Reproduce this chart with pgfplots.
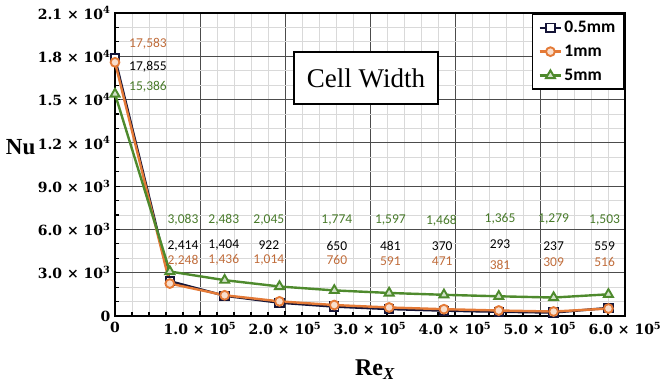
\documentclass[border=0pt]{standalone}
\usepackage{fontspec}
\setmainfont{Liberation Serif}
\newfontfamily\carlito{Carlito}
\newfontfamily\dvs{DejaVu Serif}
\usepackage{pgfplots}
\pgfplotsset{compat=1.18}
\definecolor{cnavy}{RGB}{20,20,55}
\definecolor{corange}{RGB}{228,122,55}
\definecolor{cgreen}{RGB}{78,138,45}
\definecolor{torange}{RGB}{192,108,58}
\definecolor{tgreen}{RGB}{72,122,42}
\begin{document}
\begin{tikzpicture}
\begin{axis}[
  scale only axis, width=510pt, height=303pt,
  xmin=0, xmax=600000, ymin=0, ymax=21000,
  xtick={0,100000,200000,300000,400000,500000,600000},
  xticklabels={0, 1.0 × 10\textsuperscript{5}, 2.0 × 10\textsuperscript{5}, 3.0 × 10\textsuperscript{5}, 4.0 × 10\textsuperscript{5}, 5.0 × 10\textsuperscript{5}, 6.0 × 10\textsuperscript{5}},
  ytick={0,3000,6000,9000,12000,15000,18000,21000},
  yticklabels={0, 3.0 × 10\textsuperscript{3}, 6.0 × 10\textsuperscript{3}, 9.0 × 10\textsuperscript{3}, 1.2 × 10\textsuperscript{4}, 1.5 × 10\textsuperscript{4}, 1.8 × 10\textsuperscript{4}, 2.1 × 10\textsuperscript{4}},
  scaled ticks=false,
  minor x tick num=4, minor y tick num=2,
  grid=both,
  major grid style={black!70, line width=0.8pt},
  minor grid style={black!15, line width=0.9pt},
  tick align=inside, major tick length=5pt, minor tick length=4pt,
  tick style={black, line width=1.2pt},
  tick pos=left,
  axis line style={black, line width=2.2pt},
  tick label style={font=\dvs\bfseries\fontsize{14}{16}\selectfont},
  xticklabel style={yshift=-3pt},
  yticklabel style={xshift=-1pt},
  clip=false,
  legend style={at={(rel axis cs:0.998,0.998)}, anchor=north east, draw=black, line width=1.3pt,
    font=\carlito\bfseries\fontsize{17.5}{19}\selectfont, row sep=7pt, inner xsep=6pt, inner ysep=5pt, fill=white},
  legend image code/.code={\draw[mark repeat=2,mark phase=2] plot coordinates {(0cm,0cm) (0.38cm,0cm) (0.76cm,0cm)};},
  legend cell align=left,
]
\addplot[cnavy, line width=2.4pt, mark=square*, mark size=4.2pt, mark options={fill=white, line width=1.9pt}]
  coordinates {(0,17855) (64500,2414) (129000,1404) (193500,922) (258000,650) (322500,481) (387000,370) (451500,293) (516000,237) (580500,559)};
\addlegendentry{0.5mm}
\addplot[corange, line width=2.4pt, mark=*, mark size=4.4pt, mark options={fill=corange!25, line width=1.9pt}]
  coordinates {(0,17583) (64500,2248) (129000,1436) (193500,1014) (258000,760) (322500,591) (387000,471) (451500,381) (516000,309) (580500,516)};
\addlegendentry{1mm}
\addplot[cgreen, line width=2.4pt, mark=triangle*, mark size=5.2pt, mark options={fill=cgreen!25, line width=1.9pt}]
  coordinates {(0,15386) (64500,3083) (129000,2483) (193500,2045) (258000,1774) (322500,1597) (387000,1468) (451500,1365) (516000,1279) (580500,1503)};
\addlegendentry{5mm}

\begin{scope}[every node/.style={font=\carlito\fontsize{13.5}{15}\selectfont}]
\node[text=torange] at (axis cs:38800,18852) {17,583};
\node[text=black] at (axis cs:38800,17258) {17,855};
\node[text=tgreen] at (axis cs:38800,15871) {15,386};
% green row
\node[text=tgreen] at (axis cs:80000,6653) {3,083};
\node[text=tgreen] at (axis cs:128000,6653) {2,483};
\node[text=tgreen] at (axis cs:181000,6653) {2,045};
\node[text=tgreen] at (axis cs:261000,6653) {1,774};
\node[text=tgreen] at (axis cs:324000,6653) {1,597};
\node[text=tgreen] at (axis cs:384000,6600) {1,468};
\node[text=tgreen] at (axis cs:453000,6750) {1,365};
\node[text=tgreen] at (axis cs:516000,6700) {1,279};
\node[text=tgreen] at (axis cs:576000,6653) {1,503};
% black row
\node[text=black] at (axis cs:80000,4851) {2,414};
\node[text=black] at (axis cs:128000,4900) {1,404};
\node[text=black] at (axis cs:181000,4900) {922};
\node[text=black] at (axis cs:261000,4851) {650};
\node[text=black] at (axis cs:324000,4851) {481};
\node[text=black] at (axis cs:385000,4851) {370};
\node[text=black] at (axis cs:453000,4950) {293};
\node[text=black] at (axis cs:516000,4851) {237};
\node[text=black] at (axis cs:576000,4851) {559};
% orange row
\node[text=torange] at (axis cs:80000,3812) {2,248};
\node[text=torange] at (axis cs:128000,3900) {1,436};
\node[text=torange] at (axis cs:181000,3850) {1,014};
\node[text=torange] at (axis cs:261000,3900) {760};
\node[text=torange] at (axis cs:324000,3812) {591};
\node[text=torange] at (axis cs:385000,3812) {471};
\node[text=torange] at (axis cs:453000,3550) {381};
\node[text=torange] at (axis cs:516000,3700) {309};
\node[text=torange] at (axis cs:576000,3750) {516};
\end{scope}

\node[draw=black, fill=white, line width=1.3pt, minimum width=144pt, minimum height=52pt, inner sep=0pt,
  font=\fontsize{27}{30}\selectfont] at (rel axis cs:0.492,0.785) {Cell Width};
\node[font=\bfseries\fontsize{23}{28}\selectfont] at (rel axis cs:-0.185,0.558) {Nu};
\node[font=\bfseries\fontsize{24}{28}\selectfont] at (rel axis cs:0.51,-0.178) {Re\textsubscript{\textit{X}}};
\end{axis}
\pgfresetboundingbox
\path (current axis.south west) ++(-115pt,-71pt) rectangle ++(662pt,387pt);
\end{tikzpicture}
\end{document}
